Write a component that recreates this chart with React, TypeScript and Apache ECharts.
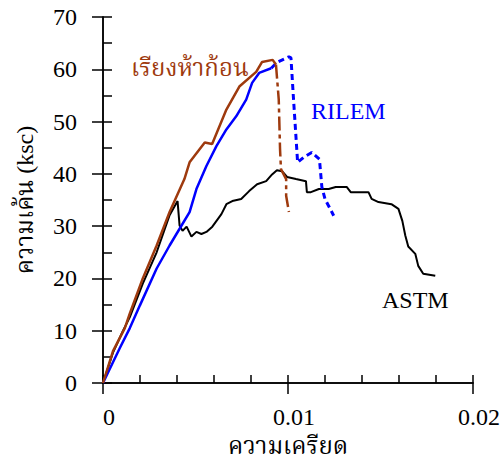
import React, { useEffect, useRef } from "react";
import * as echarts from "echarts";

// ---- data ----
const xMin = 0;
const xMax = 0.02;
const xStep = 0.01;
const yMin = 0;
const yMax = 70;
const yStep = 10;

const astmStrain = [0, 0.00054, 0.00107, 0.00145, 0.00215, 0.0029, 0.0036, 0.00403, 0.00414, 0.0043, 0.00452, 0.00478, 0.00505, 0.00532, 0.00559, 0.00591, 0.0064, 0.00667, 0.00699, 0.00747, 0.0079, 0.00833, 0.00882, 0.00914, 0.0094, 0.00968, 0.00995, 0.01043, 0.01097, 0.01102, 0.01124, 0.01167, 0.0122, 0.01258, 0.01317, 0.01339, 0.01435, 0.01452, 0.01489, 0.01559, 0.01597, 0.01618, 0.01634, 0.0165, 0.01688, 0.01704, 0.01731, 0.01796];
const astmStress = [0, 5.8, 9.9, 12.6, 19.0, 25.0, 32.1, 34.8, 30.1, 29.1, 29.9, 28.0, 28.9, 28.5, 28.9, 29.9, 32.3, 34.2, 34.8, 35.2, 36.7, 38.0, 38.6, 39.9, 40.7, 40.5, 39.4, 39.0, 38.6, 36.5, 36.5, 37.1, 37.1, 37.5, 37.5, 36.5, 36.5, 35.2, 34.6, 34.2, 33.3, 31.0, 28.2, 26.1, 24.7, 22.4, 20.9, 20.5];

const rilemStrain = [0, 0.00091, 0.00145, 0.00199, 0.0029, 0.0036, 0.00414, 0.00468, 0.00505, 0.00559, 0.00613, 0.00667, 0.0072, 0.00774, 0.00806, 0.00844, 0.00909, 0.0094, 0.01005, 0.01016, 0.0103, 0.01052, 0.01086, 0.01128, 0.0117, 0.01183, 0.012, 0.01247];
const rilemStress = [0, 6.7, 10.5, 14.8, 21.9, 26.3, 29.5, 32.7, 37.1, 41.5, 45.3, 48.5, 51.0, 54.2, 57.4, 59.3, 60.2, 61.3, 62.4, 62.2, 54.2, 42.2, 43.2, 44.1, 42.8, 37.5, 35.2, 32.0];
const rilemSolidEnd = 16;

const fiveStrain = [0, 0.00054, 0.00118, 0.00145, 0.00215, 0.0029, 0.0036, 0.0044, 0.00468, 0.0055, 0.0059, 0.00667, 0.00737, 0.00828, 0.0086, 0.00917, 0.00935, 0.0095, 0.00957, 0.00962, 0.0099, 0.0099, 0.01005];
const fiveStress = [0, 6.1, 10.5, 13.3, 20.0, 26.3, 32.7, 39.0, 42.2, 46.0, 45.7, 52.3, 56.7, 59.5, 61.4, 61.8, 60.9, 54.2, 44.7, 40.9, 39.0, 35.8, 32.7];
const fiveSolidEnd = 16;

const seriesNames = ["ASTM", "RILEM", "เรียงห้าก้อน"];
const xTitle = "ความเครียด";
const yTitle = "ความเค้น (ksc)";

const SERIF = "Liberation Serif, Noto Serif Thai, Times New Roman, serif";

function pairs(xs: number[], ys: number[], from = 0, to = xs.length - 1) {
  const out: number[][] = [];
  for (let i = from; i <= to; i++) out.push([xs[i], ys[i]]);
  return out;
}

export default function App() {
  const ref = useRef<HTMLDivElement>(null);
  useEffect(() => {
    document.body.style.margin = "0";
    if (!ref.current) return;
    const chart = echarts.init(ref.current, undefined, { renderer: "svg" });
    const tickStyle = { color: "#000", width: 1.5 };
    const commonX = {
      type: "value" as const,
      min: xMin,
      max: xMax,
      interval: xStep,
      position: "bottom" as const,
      splitLine: { show: false },
      axisLine: { show: true, onZero: false, lineStyle: tickStyle },
    };
    const commonY = {
      type: "value" as const,
      min: yMin,
      max: yMax,
      interval: yStep,
      position: "left" as const,
      splitLine: { show: false },
      axisLine: { show: true, onZero: false, lineStyle: tickStyle },
    };
    const brown = "#9E3A0E";
    const txt = { fontFamily: SERIF, fontSize: 24, color: "#000" };
    chart.setOption({
      animation: false,
      backgroundColor: "#fff",
      grid: { left: 103, right: 30, top: 17, bottom: 78, containLabel: false },
      xAxis: [
        {
          ...commonX,
          name: xTitle,
          nameLocation: "middle",
          nameGap: 51,
          nameTextStyle: txt,
          axisTick: { show: true, inside: false, length: 11, lineStyle: tickStyle },
          axisLabel: {
            ...txt,
            margin: 22,
            padding: [0, 0, 0, 12],
            formatter: (v: number) => (v === 0 ? "0" : String(Number(v.toFixed(3)))),
          },
        },
        {
          ...commonX,
          axisTick: { show: true, inside: true, length: 8, lineStyle: tickStyle },
          minorTick: { show: true, splitNumber: 5, length: 8, lineStyle: tickStyle },
          axisLabel: { show: false },
        },
      ],
      yAxis: [
        {
          ...commonY,
          name: yTitle,
          nameLocation: "middle",
          nameGap: 66,
          nameRotate: 90,
          nameTextStyle: txt,
          axisTick: { show: true, inside: false, length: 11, lineStyle: tickStyle },
          axisLabel: { ...txt, margin: 26, padding: [3, 0, 0, 0] },
        },
        {
          ...commonY,
          axisTick: { show: true, inside: true, length: 9, lineStyle: tickStyle },
          minorTick: { show: true, splitNumber: 2, length: 9, lineStyle: tickStyle },
          axisLabel: { show: false },
        },
      ],
      series: [
        {
          name: seriesNames[0],
          type: "line",
          data: pairs(astmStrain, astmStress),
          showSymbol: false,
          lineStyle: { color: "#000", width: 2 },
        },
        {
          name: seriesNames[1],
          type: "line",
          data: pairs(rilemStrain, rilemStress, 0, rilemSolidEnd),
          showSymbol: false,
          lineStyle: { color: "#0000FF", width: 2.5 },
        },
        {
          name: seriesNames[1] + " (post-peak)",
          type: "line",
          data: pairs(rilemStrain, rilemStress, rilemSolidEnd),
          showSymbol: false,
          lineStyle: { color: "#0000FF", width: 3, type: [6, 4] },
        },
        {
          name: seriesNames[2],
          type: "line",
          data: pairs(fiveStrain, fiveStress, 0, fiveSolidEnd),
          showSymbol: false,
          lineStyle: { color: brown, width: 2.5 },
        },
        {
          name: seriesNames[2] + " (post-peak)",
          type: "line",
          data: pairs(fiveStrain, fiveStress, fiveSolidEnd),
          showSymbol: false,
          lineStyle: { color: brown, width: 2.5, type: [14, 4, 4, 4] },
        },
      ],
      graphic: [
        {
          type: "text",
          left: 131,
          top: 56,
          style: { text: seriesNames[2], fill: brown, fontFamily: SERIF, fontSize: 24 },
        },
        {
          type: "text",
          left: 311,
          top: 99,
          style: { text: seriesNames[1], fill: "#0000FF", fontFamily: SERIF, fontSize: 24 },
        },
        {
          type: "text",
          left: 382,
          top: 288,
          style: { text: seriesNames[0], fill: "#000", fontFamily: SERIF, fontSize: 24 },
        },
      ],
    });
    return () => chart.dispose();
  }, []);
  return <div ref={ref} style={{ width: 503, height: 463 }} />;
}
